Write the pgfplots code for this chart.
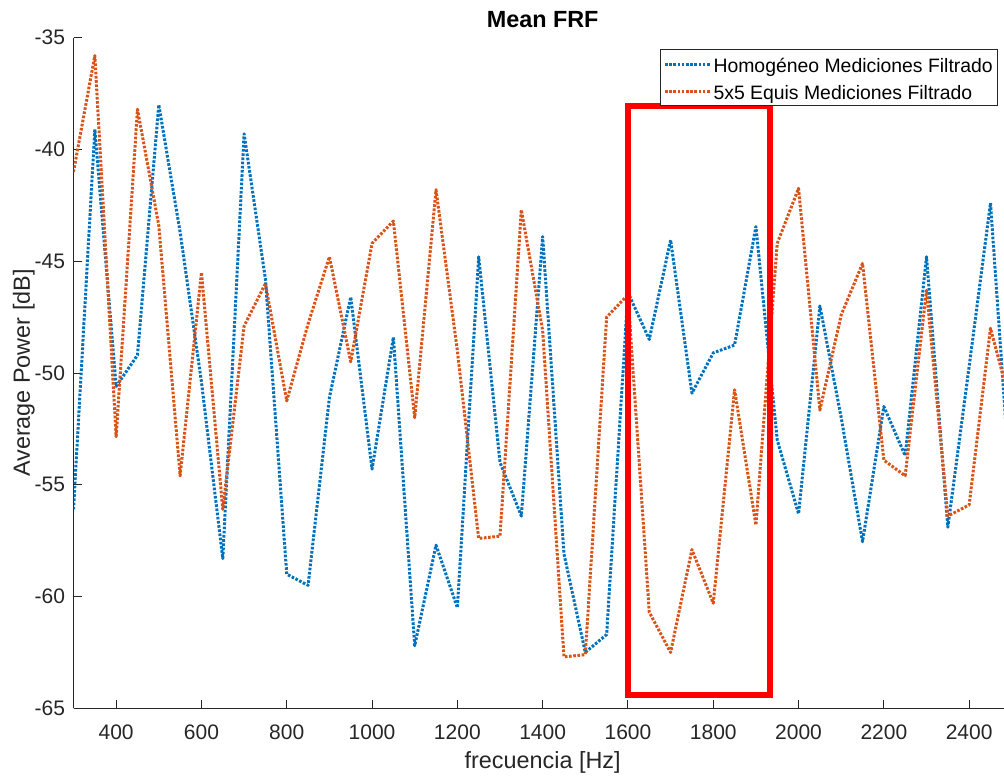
\documentclass[border=0pt]{standalone}
\usepackage{pgfplots}
\usepackage{pgfplotstable}
\pgfplotsset{compat=1.18}
\usepackage{fontspec}
\setmainfont{Liberation Sans}

\definecolor{mblue}{rgb}{0,0.447,0.741}
\definecolor{morange}{rgb}{0.85,0.325,0.098}
\definecolor{axgray}{rgb}{0.15,0.15,0.15}

% f [Hz], Homogeneo, 5x5 Equis (mean FRF, dB)
\pgfplotstableread{
f     homo    equis
300   -56.1   -41.0
350   -39.1   -35.8
400   -50.6   -52.85
450   -49.2   -38.2
500   -38.0   -43.4
550   -43.7   -54.6
600   -50.4   -45.5
650   -58.3   -56.1
700   -39.3   -47.9
750   -45.8   -46.0
800   -59.0   -51.25
850   -59.5   -47.8
900   -51.1   -44.8
950   -46.6   -49.5
1000  -54.3   -44.2
1050  -48.4   -43.2
1100  -62.2   -52.0
1150  -57.7   -41.8
1200  -60.5   -49.0
1250  -44.8   -57.4
1300  -54.0   -57.3
1350  -56.4   -42.7
1400  -43.9   -48.1
1450  -58.1   -62.7
1500  -62.5   -62.6
1550  -61.7   -47.5
1600  -46.4   -46.5
1650  -48.5   -60.7
1700  -44.05  -62.5
1750  -50.9   -57.9
1800  -49.1   -60.3
1850  -48.75  -50.75
1900  -43.45  -56.8
1950  -53.0   -44.2
2000  -56.3   -41.74
2050  -47.0   -51.66
2100  -52.0   -47.4
2150  -57.55  -45.1
2200  -51.5   -53.9
2250  -53.7   -54.6
2300  -44.8   -46.3
2350  -56.9   -56.4
2400  -49.7   -55.9
2450  -42.4   -48.0
2500  -56.1   -51.6
}\frfdata

\begin{document}
\begin{tikzpicture}
\begin{axis}[
    scale only axis,
    width=469.15pt,
    height=335.3pt,
    xmin=300, xmax=2500,
    ymin=-65, ymax=-35,
    axis lines=left,
    axis line style={-, axgray, line width=0.5pt},
    tick align=inside,
    major tick length=4.2pt,
    tick style={axgray, line width=0.5pt},
    xtick={400,600,800,1000,1200,1400,1600,1800,2000,2200,2400},
    xticklabels={400,600,800,1000,1200,1400,1600,1800,2000,2200,2400},
    ytick={-65,-60,-55,-50,-45,-40,-35},
    yticklabels={-65,-60,-55,-50,-45,-40,-35},
    ticklabel style={font=\fontsize{10.5}{12.6}\selectfont, text=axgray},
    xticklabel style={anchor=base, yshift=-15.35pt},
    yticklabel style={anchor=east, xshift=-0.75pt},
    xlabel={frecuencia [Hz]},
    ylabel={Average Power [dB]},
    label style={font=\fontsize{11.7}{14}\selectfont, text=axgray},
    xlabel style={at={(axis description cs:0.5,0)}, anchor=base, yshift=-30pt},
    ylabel style={at={(axis description cs:-0.0464,0.5)}, anchor=base, rotate=0},
    title={Mean FRF},
    every axis title shift=0pt,
    title style={at={(axis description cs:0.5,1)}, anchor=base, yshift=5pt,
        font=\bfseries\fontsize{11.7}{14}\selectfont},
    legend style={at={(1,1)}, anchor=north east, xshift=-6.75pt, yshift=-5.8pt,
        draw=axgray, line width=0.5pt, fill=white,
        inner xsep=1.5pt, inner ysep=0.675pt, row sep=0.5pt, column sep=0pt,
        font=\fontsize{9.7}{11.6}\selectfont,
        nodes={inner xsep=1pt, inner ysep=0.5pt, text height=10.3pt, text depth=1.7pt}},
    legend cell align=left,
    legend image code/.code={\draw[#1] (0pt,0pt) -- (22.5pt,0pt);},
    every axis plot/.append style={line width=1.5pt, line join=round,
        dash pattern=on 1.3pt off 0.8pt},
]
\addplot[mblue, no marks] table[x=f, y=homo] {\frfdata};
\addlegendentry{Homogéneo Mediciones Filtrado}
\addplot[morange, no marks] table[x=f, y=equis] {\frfdata};
\addlegendentry{5x5 Equis Mediciones Filtrado}
\addplot[red, no marks, solid, line width=2.7pt, line join=miter, forget plot]
    coordinates {(1600,-38.06) (1933,-38.06) (1933,-64.41) (1600,-64.41)} -- cycle;
\end{axis}
\pgfresetboundingbox
\path[use as bounding box] ([xshift=-36.75pt,yshift=-34.35pt]current axis.south west)
    rectangle ([xshift=-3.9pt,yshift=18.85pt]current axis.north east);
\end{tikzpicture}
\end{document}
